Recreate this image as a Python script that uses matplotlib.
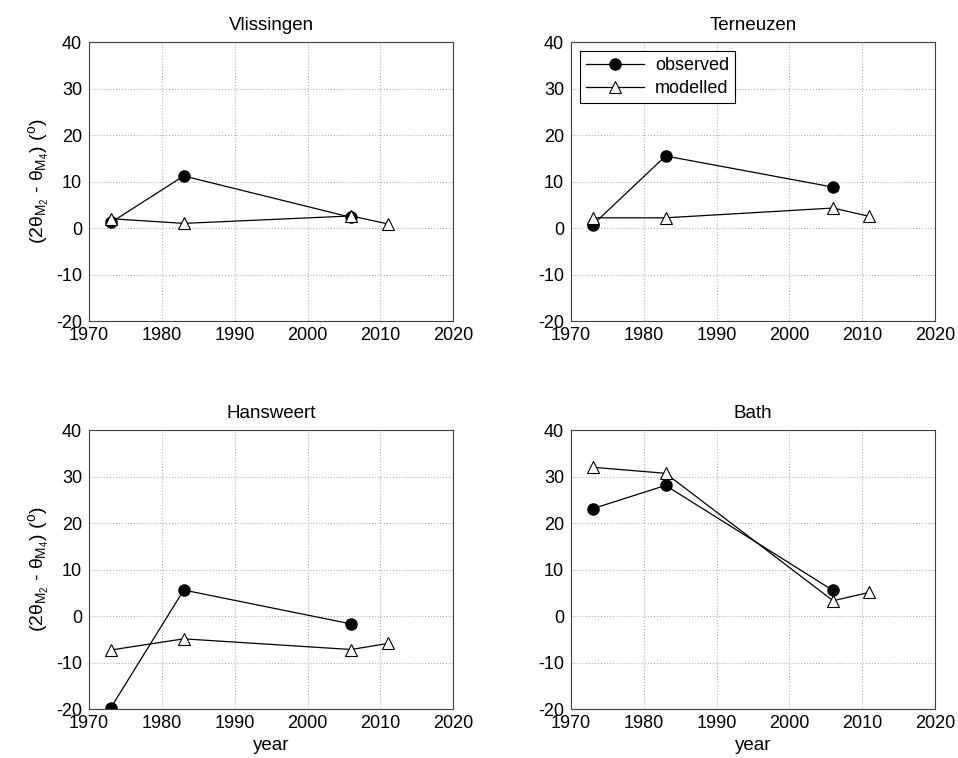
import numpy as np
import matplotlib
matplotlib.use("Agg")
import matplotlib.pyplot as plt

plt.rcParams['font.family'] = ['Liberation Sans', 'DejaVu Sans']
plt.rcParams['mathtext.fontset'] = 'custom'
plt.rcParams['mathtext.rm'] = 'Liberation Sans'
plt.rcParams['mathtext.it'] = 'Liberation Sans'
plt.rcParams['axes.unicode_minus'] = False

stations = ["Vlissingen", "Terneuzen", "Hansweert", "Bath"]
years_obs = [1973, 1983, 2006]
years_mod = [1973, 1983, 2006, 2011]

obs_vlissingen = [1.2, 11.2, 2.3]
mod_vlissingen = [2.0, 1.0, 2.6, 0.9]
obs_terneuzen = [0.7, 15.5, 8.8]
mod_terneuzen = [2.2, 2.2, 4.3, 2.5]
obs_hansweert = [-19.7, 5.6, -1.7]
mod_hansweert = [-7.3, -4.9, -7.2, -5.9]
obs_bath = [23.1, 28.1, 5.5]
mod_bath = [32.0, 30.7, 3.3, 5.1]

obs_all = [obs_vlissingen, obs_terneuzen, obs_hansweert, obs_bath]
mod_all = [mod_vlissingen, mod_terneuzen, mod_hansweert, mod_bath]

fig = plt.figure(figsize=(9.58, 7.58), dpi=100)
lefts = [0.093, 0.596]
bottoms = [0.5765, 0.0646]
w, h = 0.380, 0.368

ylabel = r'$(2\theta_{M_2}$ - $\theta_{M_4})$ ($^o$)'

for k, name in enumerate(stations):
    row, col = divmod(k, 2)
    ax = fig.add_axes([lefts[col], bottoms[row], w, h])
    ax.plot(years_obs, obs_all[k], '-o', color='black', lw=0.9,
            markersize=8, markerfacecolor='black', label='observed')
    ax.plot(years_mod, mod_all[k], '-^', color='black', lw=0.9,
            markersize=9, markerfacecolor='white', markeredgewidth=0.8,
            label='modelled')
    ax.set_xlim(1970, 2020)
    ax.set_ylim(-20, 40)
    ax.set_xticks(np.arange(1970, 2021, 10))
    ax.set_yticks(np.arange(-20, 41, 10))
    ax.grid(True, linestyle=':', color='#b0b0b0', linewidth=0.8)
    ax.tick_params(labelsize=13, direction='in', length=0)
    ax.tick_params(axis='y', pad=5)
    ax.tick_params(axis='x', pad=4)
    ax.set_title(name, fontsize=13.5, pad=9)
    for s in ax.spines.values():
        s.set_color('#404040')
        s.set_linewidth(0.8)
    if col == 0:
        ax.set_ylabel(ylabel, fontsize=14, labelpad=3)
    if row == 1:
        ax.set_xlabel('year', fontsize=13.5, labelpad=4)
    if k == 1:
        leg = ax.legend(loc='upper left', fontsize=13, fancybox=False,
                        edgecolor='black', framealpha=1, borderaxespad=0.5,
                        handlelength=3.2, handletextpad=0.6,
                        borderpad=0.35, labelspacing=0.3)
        leg.get_frame().set_linewidth(0.8)

fig.savefig("out.png", dpi=100)
